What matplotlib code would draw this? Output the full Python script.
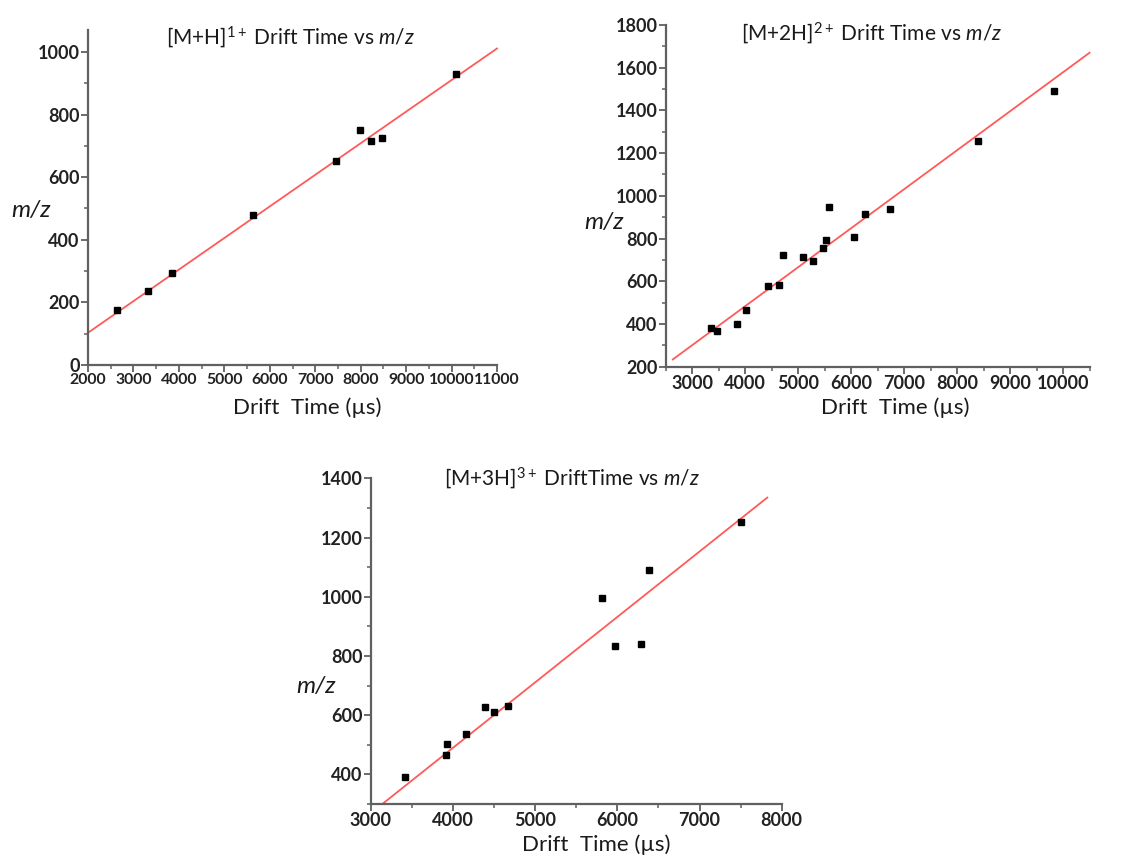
import matplotlib
matplotlib.use("Agg")
import matplotlib.pyplot as plt
from matplotlib.ticker import MultipleLocator

plt.rcParams['font.family'] = ['Lato', 'DejaVu Sans']
plt.rcParams['mathtext.fontset'] = 'custom'
plt.rcParams['mathtext.rm'] = 'Lato'
plt.rcParams['mathtext.it'] = 'Lato:italic'

# ---- data ----
p1_time = [2630, 3310, 3840, 5630, 7450, 7980, 8230, 8460, 10100]
p1_mz = [175, 235, 295, 480, 650, 752, 716, 725, 930]
p1_fit_time = [2000, 11000]
p1_fit_mz = [103, 1011]

p2_time = [3350, 3460, 3840, 4010, 4430, 4630, 4710, 5080, 5280, 5470, 5530,
           5580, 6050, 6250, 6735, 8385, 9820]
p2_mz = [380, 368, 398, 465, 580, 583, 725, 713, 694, 757, 795,
         946, 808, 915, 940, 1257, 1490]
p2_fit_time = [2634, 10491]
p2_fit_mz = [234, 1670]

p3_time = [3415, 3910, 3930, 4160, 4385, 4500, 4670, 5810, 5975, 6285, 6385, 7500]
p3_mz = [390, 465, 504, 538, 628, 611, 631, 996, 833, 840, 1090, 1253]
p3_fit_time = [3142, 7825]
p3_fit_mz = [300, 1335]

titles = [r'[M+H]$^{1+}$ Drift Time vs $\mathit{m/z}$',
          r'[M+2H]$^{2+}$ Drift Time vs $\mathit{m/z}$',
          r'[M+3H]$^{3+}$ DriftTime vs $\mathit{m/z}$']
xlabel = 'Drift  Time (\u00b5s)'
ylabel = 'm/z'

W, H = 1134, 857
fig = plt.figure(figsize=(W / 100, H / 100), dpi=100)

def axes_px(l, r, b, t):
    return fig.add_axes([l / W, (H - b) / H, (r - l) / W, (b - t) / H])

specs = [
    dict(box=(88, 497, 365, 30), xlim=(2000, 11000), ylim=(0, 1070),
         xmaj=1000, xmin=500, ymaj=200, ymin=100, xsize=11.3,
         data=(p1_time, p1_mz, p1_fit_time, p1_fit_mz),
         title_xy=(291, 37), xl_xy=(307, 408), yl_xy=(31, 210)),
    dict(box=(665.7, 1090, 366.7, 25), xlim=(2500, 10500), ylim=(200, 1800),
         xmaj=1000, xmin=500, ymaj=200, ymin=100, xsize=13,
         data=(p2_time, p2_mz, p2_fit_time, p2_fit_mz),
         title_xy=(872, 33), xl_xy=(895, 408), yl_xy=(604, 222)),
    dict(box=(370.7, 781.7, 804, 478.3), xlim=(3000, 8000), ylim=(300, 1400),
         xmaj=1000, xmin=500, ymaj=200, ymin=100, xsize=13,
         data=(p3_time, p3_mz, p3_fit_time, p3_fit_mz),
         title_xy=(572, 478), xl_xy=(596, 845), yl_xy=(316, 687)),
]

spine_col = '#606060'
for i, s in enumerate(specs):
    ax = axes_px(*s['box'])
    x, y, fx, fy = s['data']
    ax.plot(fx, fy, color='#ff5a5a', lw=1.3, zorder=2, clip_on=False)
    ax.plot(x, y, 's', color='black', ms=5, zorder=3, clip_on=False)
    ax.set_xlim(*s['xlim'])
    ax.set_ylim(*s['ylim'])
    ax.xaxis.set_major_locator(MultipleLocator(s['xmaj']))
    ax.xaxis.set_minor_locator(MultipleLocator(s['xmin']))
    ax.yaxis.set_major_locator(MultipleLocator(s['ymaj']))
    ax.yaxis.set_minor_locator(MultipleLocator(s['ymin']))
    for side in ('top', 'right'):
        ax.spines[side].set_visible(False)
    for side in ('left', 'bottom'):
        ax.spines[side].set_color(spine_col)
        ax.spines[side].set_linewidth(1.6)
    ax.tick_params(which='major', direction='out', length=5, width=1.3,
                   color=spine_col, labelsize=13, labelcolor='#222222', pad=1)
    ax.tick_params(axis='x', which='major', labelsize=s['xsize'])
    ax.tick_params(which='minor', direction='out', length=3, width=1.1,
                   color=spine_col)
    for lab in ax.get_xticklabels() + ax.get_yticklabels():
        lab.set_fontweight('bold')
    ax.patch.set_alpha(0)
    tx, ty = s['title_xy']
    fig.text(tx / W, 1 - ty / H, titles[i], ha='center', va='center',
             fontsize=15, color='#1a1a1a')
    xx, xy = s['xl_xy']
    fig.text(xx / W, 1 - xy / H, xlabel, ha='center', va='center',
             fontsize=16, color='#1a1a1a')
    yx, yy = s['yl_xy']
    fig.text(yx / W, 1 - yy / H, ylabel, ha='center', va='center',
             fontsize=17.5, style='italic', color='#1a1a1a')

fig.savefig('out.png', dpi=100, facecolor='white')
